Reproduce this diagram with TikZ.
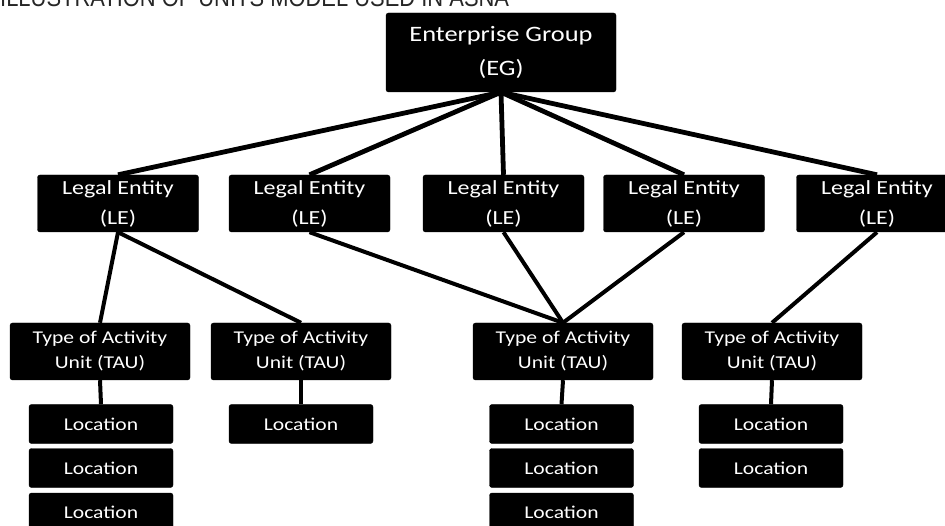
\documentclass[tikz,border=0pt]{standalone}
\usepackage{fontspec}
\newfontfamily\boxfont{Carlito}[FakeStretch=1.2]
\newfontfamily\titlefont{Liberation Sans}[FakeStretch=0.86]
\usetikzlibrary{backgrounds}
\tikzset{
  unitbox/.style={fill=black, draw=black, rounded corners=2.5pt, text=white, align=center, inner sep=0pt, font=\boxfont},
  egbox/.style={unitbox, minimum width=230pt, minimum height=79pt, font=\boxfont\fontsize{22}{34}\selectfont},
  lebox/.style={unitbox, minimum width=161pt, minimum height=57pt, font=\boxfont\fontsize{20}{30}\selectfont},
  taubox/.style={unitbox, minimum width=180pt, minimum height=57pt, font=\boxfont\fontsize{18}{25}\selectfont},
  locbox/.style={unitbox, minimum width=144pt, minimum height=39pt, font=\boxfont\fontsize{18}{22}\selectfont},
  biglink/.style={line width=4.8pt, black},
  link/.style={line width=4pt, black}
}
\begin{document}
\begin{tikzpicture}[x=1pt, y=-1pt]
\useasboundingbox (0,0) rectangle (945,526);
\node[anchor=base west, text=black!85, font=\titlefont\fontsize{25.5}{28}\selectfont, inner sep=0pt] (title) at (0,6.5) {ILLUSTRATION OF UNITS MODEL USED IN ASNA};
% Enterprise group
\node[egbox] (EG) at (501,52.5) {Enterprise Group\\(EG)};
% Legal entities
\node[lebox] (LE1) at (118,203.5) {Legal Entity\\(LE)};
\node[lebox] (LE2) at (309.5,203.5) {Legal Entity\\(LE)};
\node[lebox] (LE3) at (503.5,203.5) {Legal Entity\\(LE)};
\node[lebox] (LE4) at (684,203.5) {Legal Entity\\(LE)};
\node[lebox] (LE5) at (877,203.5) {Legal Entity\\(LE)};
% TAUs
\node[taubox] (TAU1) at (100,351.5) {Type of Activity\\Unit (TAU)};
\node[taubox] (TAU2) at (301,351.5) {Type of Activity\\Unit (TAU)};
\node[taubox] (TAU3) at (563,351.5) {Type of Activity\\Unit (TAU)};
\node[taubox] (TAU4) at (772,351.5) {Type of Activity\\Unit (TAU)};
% Locations
\node[locbox] (L11) at (101,424) {Location};
\node[locbox] (L12) at (101,468) {Location};
\node[locbox] (L13) at (101,512.5) {Location};
\node[locbox] (L21) at (301,424) {Location};
\node[locbox] (L31) at (561.5,424) {Location};
\node[locbox] (L32) at (561.5,468) {Location};
\node[locbox] (L33) at (561.5,512.5) {Location};
\node[locbox] (L41) at (771,424) {Location};
\node[locbox] (L42) at (771,468) {Location};
\begin{scope}[on background layer]
\foreach \n in {LE1,LE2,LE3,LE4,LE5} \draw[biglink] (EG.south) -- (\n.north);
\draw[link] (LE1.south) -- (TAU1.north);
\draw[link] (LE1.south) -- (TAU2.north);
\draw[link] (LE2.south) -- (TAU3.north);
\draw[link] (LE3.south) -- (TAU3.north);
\draw[link] (LE4.south) -- (TAU3.north);
\draw[link] (LE5.south) -- (TAU4.north);
\draw[link] (TAU1.south) -- (L11.north);
\draw[link] (TAU2.south) -- (L21.north);
\draw[link] (TAU3.south) -- (L31.north);
\draw[link] (TAU4.south) -- (L41.north);
\end{scope}
\end{tikzpicture}
\end{document}
